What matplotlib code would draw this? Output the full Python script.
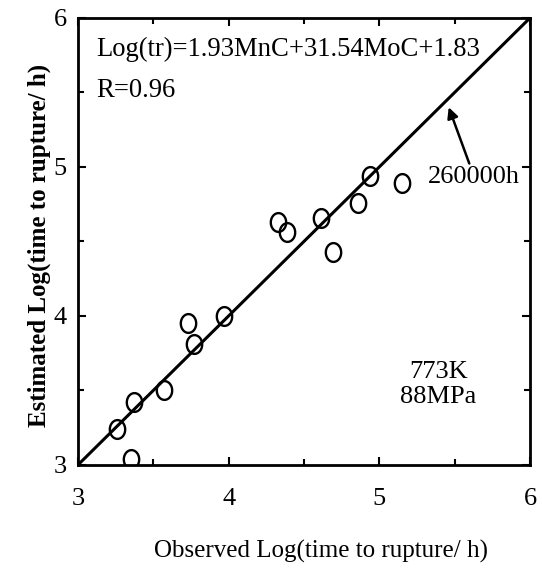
import matplotlib
matplotlib.use("Agg")
import matplotlib.pyplot as plt
import numpy as np
from matplotlib.path import Path
from matplotlib.ticker import MultipleLocator

# observed vs estimated log(time to rupture / h)
observed = [3.26, 3.35, 3.37, 3.57, 3.73, 3.77, 3.97, 4.33, 4.39, 4.61, 4.69, 4.86, 4.94, 5.15]
estimated = [3.24, 3.04, 3.42, 3.50, 3.95, 3.81, 4.00, 4.63, 4.56, 4.66, 4.43, 4.76, 4.94, 4.89]

line_x = [3, 6]
equation = "Log(tr)=1.93MnC+31.54MoC+1.83"
r_text = "R=0.96"
line_label = "260000h"
cond_text = "773K\n88MPa"

plt.rcParams['font.family'] = ['Liberation Serif', 'DejaVu Serif']

# slightly tall open circle, like the original scan
t = np.linspace(0, 2 * np.pi, 60)
ellipse = Path(np.column_stack([0.82 * np.cos(t), np.sin(t)]))

fig = plt.figure(figsize=(5.42, 5.76), dpi=100)
ax = fig.add_axes([0.144, 0.193, 0.834, 0.776])

ax.plot(line_x, line_x, color='black', lw=2.2)
ax.plot(observed, estimated, linestyle='', marker=ellipse, markersize=13.5,
        markerfacecolor='none', markeredgecolor='black', markeredgewidth=1.7)

ax.set_xlim(3, 6)
ax.set_ylim(3, 6)
ax.xaxis.set_major_locator(MultipleLocator(1))
ax.yaxis.set_major_locator(MultipleLocator(1))
ax.xaxis.set_minor_locator(MultipleLocator(0.5))
ax.yaxis.set_minor_locator(MultipleLocator(0.5))
ax.tick_params(which='both', direction='in', top=True, right=True, width=1.5)
ax.tick_params(which='major', length=6, labelsize=19)
ax.tick_params(axis='x', which='major', pad=17)
ax.tick_params(axis='y', which='major', pad=8)
ax.tick_params(which='minor', length=4)
for s in ax.spines.values():
    s.set_linewidth(2)

ax.text(3.12, 5.79, equation, fontsize=19.2, va='center', ha='left')
ax.text(3.12, 5.51, r_text, fontsize=19.2, va='center', ha='left')
ax.annotate(line_label, xy=(5.46, 5.40), xytext=(5.63, 4.93), fontsize=19,
            ha='center', va='center',
            arrowprops=dict(arrowstyle='-|>', color='black', lw=1.8,
                            shrinkA=0, shrinkB=0, mutation_scale=16))
ax.text(5.39, 3.54, cond_text, fontsize=19, ha='center', va='center', linespacing=1.15)

ax.set_xlabel("Observed Log(time to rupture/ h)", fontsize=18)
ax.xaxis.set_label_coords(0.537, -0.168)
ax.set_ylabel("Estimated Log(time to rupture/ h)", fontsize=18, fontweight='bold')
ax.yaxis.set_label_coords(-0.06, 0.49)

fig.savefig("out.png", dpi=100)
